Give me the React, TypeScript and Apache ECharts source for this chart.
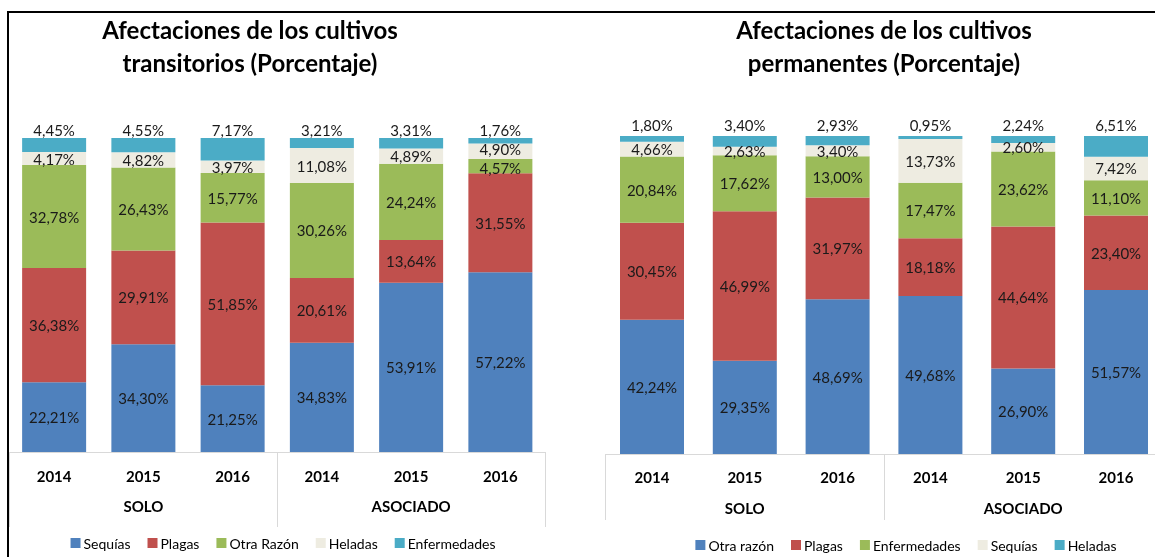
import React, { useEffect, useRef } from "react";
import * as echarts from "echarts";

const years = ["2014", "2015", "2016", "2014", "2015", "2016"];
const groups = ["SOLO", "ASOCIADO"];

// Left chart: cultivos transitorios
const leftNames = ["Sequías", "Plagas", "Otra Razón", "Heladas", "Enfermedades"];
const leftSequias = [22.21, 34.3, 21.25, 34.83, 53.91, 57.22];
const leftPlagas = [36.38, 29.91, 51.85, 20.61, 13.64, 31.55];
const leftOtra = [32.78, 26.43, 15.77, 30.26, 24.24, 4.57];
const leftHeladas = [4.17, 4.82, 3.97, 11.08, 4.89, 4.9];
const leftEnfermedades = [4.45, 4.55, 7.17, 3.21, 3.31, 1.76];

// Right chart: cultivos permanentes
const rightNames = ["Otra razón", "Plagas", "Enfermedades", "Sequías", "Heladas"];
const rightOtra = [42.24, 29.35, 48.69, 49.68, 26.9, 51.57];
const rightPlagas = [30.45, 46.99, 31.97, 18.18, 44.64, 23.4];
const rightEnfermedades = [20.84, 17.62, 13.0, 17.47, 23.62, 11.1];
const rightSequias = [4.66, 2.63, 3.4, 13.73, 2.6, 7.42];
const rightHeladas = [1.8, 3.4, 2.93, 0.95, 2.24, 6.51];

const colors = ["#4F81BD", "#C0504D", "#9BBB59", "#EEECE1", "#4BACC6"];
const FONT = 'Lato, "Open Sans", sans-serif';

function fmt(p: any) {
  return Number(p.value).toFixed(2).replace(".", ",") + "%";
}

type Nudge = { s: number; i: number; dy: number };

function buildOption(cfg: {
  names: string[];
  data: number[][];
  title: string[];
  titleX: number;
  grid: { left: number; width: number; top: number; height: number };
  topDist: number;
  yearMargin: number;
  groupMargin: number;
  tickLen: number;
  legendTop: number;
  nudges: Nudge[];
}) {
  const series = cfg.names.map((name, si) => ({
    name,
    type: "bar",
    stack: "total",
    barWidth: 64,
    data: cfg.data[si].map((v, idx) => {
      const n = cfg.nudges.find((x) => x.s === si && x.i === idx);
      return n ? { value: v, label: { offset: [0, n.dy] } } : v;
    }),
    itemStyle: { color: colors[si] },
    label: {
      show: true,
      position: si === cfg.names.length - 1 ? "top" : "inside",
      distance: si === cfg.names.length - 1 ? cfg.topDist : 0,
      formatter: fmt,
      color: "#1a1a1a",
      fontFamily: FONT,
      fontSize: 15,
      lineHeight: 13,
      textBorderWidth: 0,
    },
    emphasis: { disabled: true },
  }));
  return {
    animation: false,
    textStyle: { fontFamily: FONT },
    graphic: [
      {
        type: "text",
        x: cfg.titleX,
        y: 29,
        style: {
          text: cfg.title[0],
          align: "center",
          verticalAlign: "middle",
          font: "bold 24px " + FONT,
          fill: "#000",
        },
      },
      {
        type: "text",
        x: cfg.titleX,
        y: 62,
        style: {
          text: cfg.title[1],
          align: "center",
          verticalAlign: "middle",
          font: "bold 24px " + FONT,
          fill: "#000",
        },
      },
    ],
    legend: {
      left: "center",
      top: cfg.legendTop,
      itemWidth: 10,
      itemHeight: 10,
      itemGap: 17,
      icon: "rect",
      selectedMode: false,
      textStyle: { fontFamily: FONT, fontSize: 14, color: "#000", padding: [0, 0, 0, -2] },
      data: cfg.names,
    },
    grid: { ...cfg.grid, containLabel: false },
    xAxis: [
      {
        type: "category",
        data: years,
        position: "bottom",
        axisLine: { show: true, lineStyle: { color: "#D9D9D9", width: 1 } },
        axisTick: { show: false },
        axisLabel: {
          margin: cfg.yearMargin,
          fontFamily: FONT,
          fontSize: 15,
          fontWeight: "bold",
          color: "#000",
        },
      },
      {
        type: "category",
        data: groups,
        position: "bottom",
        offset: 0,
        axisLine: { show: false },
        axisTick: {
          show: true,
          length: cfg.tickLen,
          lineStyle: { color: "#D9D9D9", width: 1 },
        },
        axisLabel: {
          margin: cfg.groupMargin,
          fontFamily: FONT,
          fontSize: 15,
          fontWeight: "bold",
          color: "#000",
        },
      },
    ],
    yAxis: { type: "value", min: 0, max: 100, show: false },
    series,
  };
}

function Chart(props: { option: any; style: React.CSSProperties }) {
  const ref = useRef<HTMLDivElement>(null);
  useEffect(() => {
    if (!ref.current) return;
    const chart = echarts.init(ref.current, undefined, { renderer: "svg" });
    chart.setOption(props.option);
    return () => chart.dispose();
  }, []);
  return <div ref={ref} style={props.style} />;
}

export default function App() {
  const leftOption = buildOption({
    names: leftNames,
    data: [leftSequias, leftPlagas, leftOtra, leftHeladas, leftEnfermedades],
    title: ["Afectaciones de los cultivos", "transitorios (Porcentaje)"],
    titleX: 250,
    grid: { left: 9.5, width: 535.5, top: 138, height: 314 },
    topDist: 2,
    yearMargin: 16,
    groupMargin: 46,
    tickLen: 75,
    legendTop: 531,
    nudges: [
      { s: 3, i: 5, dy: -2.5 },
      { s: 2, i: 5, dy: 1.5 },
    ],
  });
  const rightOption = buildOption({
    names: rightNames,
    data: [rightOtra, rightPlagas, rightEnfermedades, rightSequias, rightHeladas],
    title: ["Afectaciones de los cultivos", "permanentes (Porcentaje)"],
    titleX: 304,
    grid: { left: 25.6, width: 556.8, top: 136, height: 318 },
    topDist: 5,
    yearMargin: 15,
    groupMargin: 46,
    tickLen: 66,
    legendTop: 533,
    nudges: [],
  });
  return (
    <div>
      <Chart
        option={leftOption}
        style={{ position: "fixed", left: 0, top: 0, width: 566, height: 557 }}
      />
      <Chart
        option={rightOption}
        style={{ position: "fixed", left: 580, top: 0, width: 652, height: 557 }}
      />
      <div
        style={{
          position: "fixed",
          left: 7,
          top: 11,
          width: 1200,
          height: 600,
          borderTop: "2px solid #000",
          borderLeft: "2px solid #000",
          pointerEvents: "none",
        }}
      />
    </div>
  );
}
